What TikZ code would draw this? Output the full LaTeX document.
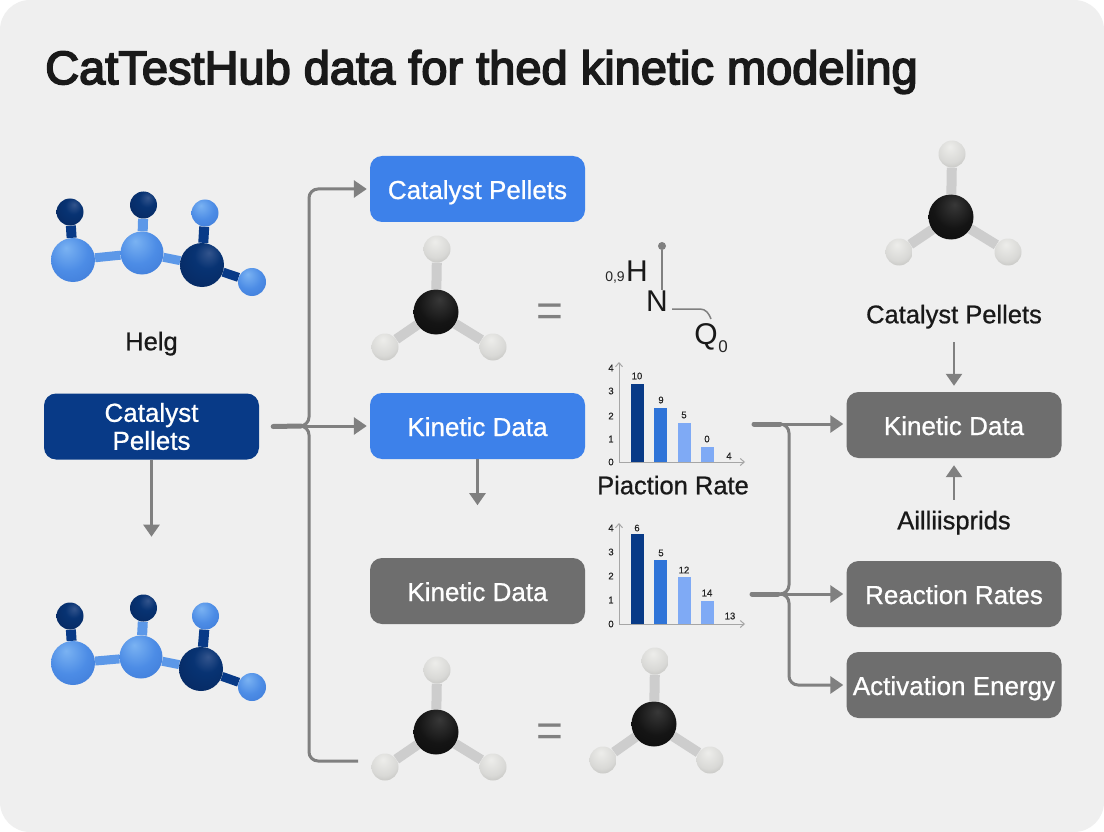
\documentclass[tikz,border=0pt]{standalone}
\usepackage{fontspec}
\usepackage{xcolor}
\usepackage{tikz}
\setmainfont{Liberation Sans}
\newfontfamily\titlefont[FakeBold=3.5]{Liberation Sans}
\newfontfamily\boxfont[FakeBold=0.8]{Liberation Sans}
\definecolor{catnavy}{RGB}{8, 58, 135}
\definecolor{catblue}{RGB}{61, 129, 234}
\definecolor{catgray}{RGB}{110, 110, 110}
\definecolor{catline}{RGB}{128, 128, 128}
\definecolor{catpage}{RGB}{239, 239, 239}
\definecolor{catsky}{RGB}{92, 152, 232}
\definecolor{catbond}{RGB}{205, 205, 205}
\definecolor{catbarb}{RGB}{47, 116, 216}
\definecolor{catbarc}{RGB}{127, 170, 245}
\usetikzlibrary{arrows.meta,positioning,backgrounds}
\pgfdeclareradialshading{skyball}{\pgfpoint{-8bp}{14bp}}{rgb(0bp)=(0.48,0.70,0.95);rgb(22bp)=(0.30,0.55,0.90);rgb(50bp)=(0.22,0.45,0.82);rgb(70bp)=(0.16,0.36,0.72)}
\pgfdeclareradialshading{navyball}{\pgfpoint{8bp}{14bp}}{rgb(0bp)=(0.20,0.33,0.55);rgb(15bp)=(0.03,0.20,0.45);rgb(50bp)=(0.02,0.14,0.35);rgb(70bp)=(0.01,0.10,0.27)}
\pgfdeclareradialshading{blackball}{\pgfpoint{4bp}{14bp}}{rgb(0bp)=(0.22,0.22,0.22);rgb(22bp)=(0.08,0.08,0.08);rgb(50bp)=(0.03,0.03,0.03);rgb(70bp)=(0,0,0)}
\pgfdeclareradialshading{whiteball}{\pgfpoint{-4bp}{14bp}}{rgb(0bp)=(0.93,0.93,0.92);rgb(25bp)=(0.85,0.85,0.84);rgb(50bp)=(0.66,0.66,0.65);rgb(70bp)=(0.50,0.50,0.50)}

\begin{document}
\begin{tikzpicture}[x=1pt, y=-1pt]
    \tikzstyle{box} = [rectangle, rounded corners=12pt, text=white, minimum width=215pt,
                       minimum height=66pt, inner sep=0pt, font=\boxfont\fontsize{26}{28}\selectfont, align=center]
    \tikzstyle{navybox} = [box, fill=catnavy]
    \tikzstyle{bluebox} = [box, fill=catblue, text height=20pt, text depth=0pt]
    \tikzstyle{graybox} = [box, fill=catgray, text height=20pt, text depth=0pt]
    \tikzstyle{label} = [font=\boxfont\fontsize{25.5}{29}\selectfont, text=black!90, inner sep=0pt,
                         text height=18.5pt, text depth=0pt]
    \tikzstyle{ball} = [circle, inner sep=0pt]
    \tikzstyle{sky} = [ball, shading=skyball]
    \tikzstyle{navy} = [ball, shading=navyball]
    \tikzstyle{blackatom} = [ball, shading=blackball, minimum size=45pt]
    \tikzstyle{whiteatom} = [ball, shading=whiteball, minimum size=27pt]
    \tikzstyle{flow} = [line width=3pt, catline, rounded corners=9pt]
    \tikzstyle{stub} = [line width=5pt, catline, line cap=round]
    \tikzstyle{flowtip} = [flow, -{Triangle[length=13pt, width=17pt]}, shorten >=3pt]
    \tikzstyle{down} = [line width=2.5pt, catline, -{Triangle[length=12pt, width=16pt]}]
    \tikzstyle{bar} = [rectangle, inner sep=0pt, minimum width=13pt, anchor=south]
    \tikzstyle{tick} = [font=\boxfont\fontsize{9.5}{10}\selectfont, inner sep=0pt, text=black!85]
    \tikzstyle{axis} = [line width=1pt, black!35, -{Straight Barb[length=4pt, width=7pt]}]
    \tikzstyle{chem} = [font=\fontsize{30}{33}\selectfont, inner sep=0pt, text=black!90,
                        text height=21.5pt, text depth=0pt]
    \tikzstyle{equal} = [font=\fontsize{46}{48}\selectfont, text=catline, inner sep=0pt]

    \useasboundingbox (0,0) rectangle (1104,832);

    % Title
    \node[anchor=west, inner sep=0pt, font=\titlefont\fontsize{47}{50}\selectfont, text=black!90] (title) at (45,72)
        {CatTestHub data for thed kinetic modeling};

    % Boxes
    \node[navybox] (pellets) at (151.5,426.5) {Catalyst\\Pellets};
    \node[bluebox] (topbox) at (477.5,189) {Catalyst Pellets};
    \node[bluebox] (kinetic) at (477.5,426) {Kinetic Data};
    \node[graybox] (kineticgray) at (477.5,591) {Kinetic Data};
    \node[graybox] (kineticright) at (954,425) {Kinetic Data};
    \node[graybox] (rates) at (954,594) {Reaction Rates};
    \node[graybox] (energy) at (954,685) {Activation Energy};

    % Labels
    \node[label] (helg) at (151.5,341) {Helg};
    \node[label] (pelletstext) at (954,314) {Catalyst Pellets};
    \node[label] (aillis) at (954,520) {Ailliisprids};
    \node[label] (piaction) at (673,485) {Piaction Rate};
    \node[equal] (eqtop) at (550,315) {=};
    \node[equal] (eqlow) at (550,735) {=};

    % Left molecules
    \node[sky, minimum size=44pt] (a1) at (73,260) {};
    \node[sky, minimum size=43pt] (a2) at (142,253) {};
    \node[navy, minimum size=44pt] (a3) at (202,265) {};
    \node[navy, minimum size=27pt] (a4) at (70,212) {};
    \node[navy, minimum size=27pt] (a5) at (143.5,205) {};
    \node[sky, minimum size=27pt] (a6) at (205,213) {};
    \node[sky, minimum size=28pt] (a7) at (252,282) {};

    \node[sky, minimum size=44pt] (b1) at (73,663) {};
    \node[sky, minimum size=43pt] (b2) at (141,657) {};
    \node[navy, minimum size=44pt] (b3) at (201,669) {};
    \node[navy, minimum size=27pt] (b4) at (70,616) {};
    \node[navy, minimum size=27pt] (b5) at (143.5,608) {};
    \node[sky, minimum size=27pt] (b6) at (205.5,616) {};
    \node[sky, minimum size=28pt] (b7) at (252,687) {};

    % Gray molecules
    \node[blackatom] (c0) at (436,312) {};
    \node[whiteatom] (c1) at (437,249) {};
    \node[whiteatom] (c2) at (385,347) {};
    \node[whiteatom] (c3) at (493,347) {};

    \node[blackatom] (d0) at (951,217) {};
    \node[whiteatom] (d1) at (952,154) {};
    \node[whiteatom] (d2) at (899,252) {};
    \node[whiteatom] (d3) at (1008,252) {};

    \node[blackatom] (e0) at (436,732) {};
    \node[whiteatom] (e1) at (437,670) {};
    \node[whiteatom] (e2) at (385,767) {};
    \node[whiteatom] (e3) at (493,767) {};

    \node[blackatom] (f0) at (654,724) {};
    \node[whiteatom] (f1) at (655,661) {};
    \node[whiteatom] (f2) at (603,760) {};
    \node[whiteatom] (f3) at (710,760) {};

    % Formula
    \node[chem] (hatom) at (637,271) {H};
    \node[tick, font=\fontsize{14}{16}\selectfont] (hprefix) at (615,278) {0,9};
    \node[chem] (natom) at (657,301) {N};
    \node[chem] (qatom) at (706,334) {Q};
    \node[tick, font=\fontsize{17}{18}\selectfont] (qsub) at (723,347) {0};
    \node[circle, fill=catline, minimum size=8pt, inner sep=0pt] (hdot) at (662,246) {};
    \draw[line width=1.2pt, catline] (hdot) -- (natom.north -| hdot);
    \draw[line width=1.5pt, catline] (natom.east) ++(4,8) -- (700,309) to[out=0, in=110] (711,319);

    % First chart
    \coordinate (ao) at (619,462);
    \coordinate (ay) at (619,362);
    \coordinate (ax) at (745,462);
    \draw[axis] (ao) -- (ay);
    \draw[axis] (ao) -- (ax);
    \node[tick] (at0) at (611,462) {0};
    \node[tick] (at1) at (611,439) {1};
    \node[tick] (at2) at (611,416) {2};
    \node[tick] (at3) at (611,391) {3};
    \node[tick] (at4) at (611,368) {4};
    \node[bar, fill=catnavy, minimum height=78pt] (ab1) at (637,462) {};
    \node[bar, fill=catbarb, minimum height=54pt] (ab2) at (660.5,462) {};
    \node[bar, fill=catbarc, minimum height=39pt] (ab3) at (684.5,462) {};
    \node[bar, fill=catbarc, minimum height=15pt] (ab4) at (707.5,462) {};
    \node[tick] (av1) at (637,376) {10};
    \node[tick] (av2) at (661,400) {9};
    \node[tick] (av3) at (684,415) {5};
    \node[tick] (av4) at (707,439) {0};
    \node[tick] (av5) at (729,456) {4};

    % Second chart
    \coordinate (so) at (619,624);
    \coordinate (sy) at (619,523);
    \coordinate (sx) at (745,624);
    \draw[axis] (so) -- (sy);
    \draw[axis] (so) -- (sx);
    \node[tick] (st0) at (611,624) {0};
    \node[tick] (st1) at (611,600) {1};
    \node[tick] (st2) at (611,576) {2};
    \node[tick] (st3) at (611,552) {3};
    \node[tick] (st4) at (611,528) {4};
    \node[bar, fill=catnavy, minimum height=90pt] (sb1) at (637,624) {};
    \node[bar, fill=catbarb, minimum height=64pt] (sb2) at (660.5,624) {};
    \node[bar, fill=catbarc, minimum height=47pt] (sb3) at (684.5,624) {};
    \node[bar, fill=catbarc, minimum height=23pt] (sb4) at (707.5,624) {};
    \node[tick] (sv1) at (637,528) {6};
    \node[tick] (sv2) at (661,553) {5};
    \node[tick] (sv3) at (684,570) {12};
    \node[tick] (sv4) at (707,593) {14};
    \node[tick] (sv5) at (730,616) {13};

    % Connections
    \coordinate (lstub) at (301,426);
    \coordinate (ljoin) at (299,426);
    \coordinate (ltrunk) at (309,426);
    \coordinate (lend) at (358,761);
    \coordinate (rstart) at (754,424);
    \coordinate (rlow) at (752,594);
    \coordinate (rstubtop) at (780,424);
    \coordinate (rstublow) at (778,594);
    \coordinate (rtrunk) at (789,424);
    \coordinate (rtrunklow) at (789,594);

    \draw[stub] (pellets.east) ++(14,0) -- (lstub);
    \draw[flowtip] (ljoin) -- (kinetic.west);
    \draw[flowtip] (ljoin) -- (ltrunk) |- (topbox.west);
    \draw[flow] (ljoin) -- (ltrunk) |- (lend);

    \draw[stub] (rstart) -- (rstubtop);
    \draw[stub] (rlow) -- (rstublow);
    \draw[flowtip] (rstart) -- (kineticright.west |- rstart);
    \draw[flow] (rstubtop) -- (rtrunk) -- (rtrunklow) -- (rstublow);
    \draw[flowtip] (rstublow) -- (rates.west);
    \draw[flowtip] (rstublow) -- (rtrunklow) |- (energy.west);

    \draw[down] (pellets.south) -- ++(0,77);
    \draw[down] (kinetic.south) -- ++(0,46);
    \draw[down, shorten >=6pt] (pelletstext.south) ++(0,19) -- (kineticright.north);
    \draw[down, shorten >=7pt] (aillis.north) ++(0,-11) -- (kineticright.south);

    % Background and bonds
    \begin{scope}[on background layer]
        \fill[white] (0,0) rectangle (1104,832);
        \fill[catpage, rounded corners=30pt] (0,0) rectangle (1104,832);

        \draw[line width=10pt, catnavy] (a1) -- (a4);
        \draw[line width=9pt, catsky] (a1) -- (a2);
        \draw[line width=10pt, catsky] (a2) -- (a5);
        \draw[line width=9pt, catsky] (a2) -- (a3);
        \draw[line width=10pt, catnavy] (a3) -- (a6);
        \draw[line width=9pt, catnavy] (a3) -- (a7);

        \draw[line width=10pt, catnavy] (b1) -- (b4);
        \draw[line width=9pt, catsky] (b1) -- (b2);
        \draw[line width=10pt, catsky] (b2) -- (b5);
        \draw[line width=9pt, catsky] (b2) -- (b3);
        \draw[line width=10pt, catnavy] (b3) -- (b6);
        \draw[line width=9pt, catnavy] (b3) -- (b7);

        \draw[line width=10pt, catbond] (c0) -- (c1);
        \draw[line width=10pt, catbond] (c0) -- (c2);
        \draw[line width=10pt, catbond] (c0) -- (c3);
        \draw[line width=10pt, catbond] (d0) -- (d1);
        \draw[line width=10pt, catbond] (d0) -- (d2);
        \draw[line width=10pt, catbond] (d0) -- (d3);
        \draw[line width=10pt, catbond] (e0) -- (e1);
        \draw[line width=10pt, catbond] (e0) -- (e2);
        \draw[line width=10pt, catbond] (e0) -- (e3);
        \draw[line width=10pt, catbond] (f0) -- (f1);
        \draw[line width=10pt, catbond] (f0) -- (f2);
        \draw[line width=10pt, catbond] (f0) -- (f3);
    \end{scope}
\end{tikzpicture}
\end{document}
